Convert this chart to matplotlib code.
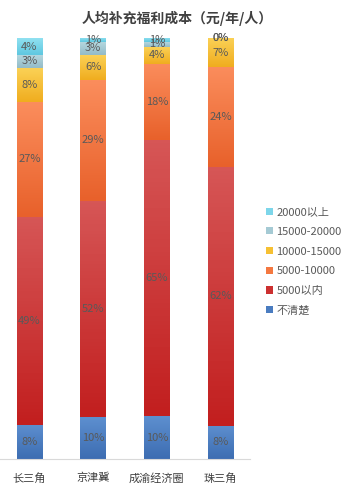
import numpy as np
import matplotlib
matplotlib.use('Agg')
import matplotlib.pyplot as plt
from matplotlib.colors import LinearSegmentedColormap

plt.rcParams['font.family'] = ['Noto Sans CJK SC', 'DejaVu Sans']

regions = ['长三角', '京津冀', '成渝经济圈', '珠三角']
series = ['不清楚', '5000以内', '5000-10000', '10000-15000', '15000-20000', '20000以上']

unknown = [8, 10, 10, 8]
under_5k = [49, 52, 65, 62]
k5_10 = [27, 29, 18, 24]
k10_15 = [8, 6, 4, 7]
k15_20 = [3, 3, 1, 0]
over_20k = [4, 1, 1, 0]

values = [unknown, under_5k, k5_10, k10_15, k15_20, over_20k]

# (top, bottom) colours of each segment's gradient
shades = [
    ('#5d8fcf', '#3d6db2'),
    ('#d65656', '#c21f1f'),
    ('#fb8d5c', '#e8612b'),
    ('#fbd257', '#f0ad1f'),
    ('#b4d6de', '#93bcc8'),
    ('#93e2f2', '#5fc8e0'),
]
legend_colors = ['#4a7cc0', '#cc3030', '#f47840', '#f6c033', '#a5cad4', '#7dd6ea']


def main():
    data = np.array(values, dtype=float)
    totals = data.sum(axis=0)
    pct = data / totals * 100

    fig = plt.figure(figsize=(3.55, 4.91), dpi=100)
    ax = fig.add_axes([0.0, 0.0652, 0.704, 0.8574])

    x = np.arange(len(regions))
    width = 0.4
    bottom = np.zeros(len(regions))
    handles = []
    for i, name in enumerate(series):
        bars = ax.bar(x, pct[i], width, bottom=bottom, color=legend_colors[i],
                      label=name, linewidth=0, zorder=2)
        handles.append(bars)
        cmap = LinearSegmentedColormap.from_list('g%d' % i, [shades[i][1], shades[i][0]])
        grad = np.linspace(0, 1, 64).reshape(-1, 1)
        for j, rect in enumerate(bars):
            if pct[i][j] > 0:
                im = ax.imshow(grad, cmap=cmap, origin='lower', aspect='auto',
                               extent=[x[j] - width / 2, x[j] + width / 2,
                                       bottom[j], bottom[j] + pct[i][j]],
                               zorder=3)
                im.set_clip_path(rect)
            ax.text(x[j], bottom[j] + pct[i][j] / 2, '%d%%' % values[i][j],
                    ha='center', va='center', fontsize=8, color='#595959',
                    zorder=5)
        bottom += pct[i]

    ax.set_xlim(-0.46, 3.46)
    ax.set_ylim(0, 100)
    ax.set_xticks(x)
    ax.set_xticklabels(regions, fontsize=8, color='#404040')
    ax.tick_params(axis='x', length=0, pad=10)
    ax.set_yticks([])
    for s in ['top', 'left', 'right']:
        ax.spines[s].set_visible(False)
    ax.spines['bottom'].set_color('#d9d9d9')
    ax.spines['bottom'].set_zorder(6)

    fig.suptitle('人均补充福利成本（元/年/人）', x=0.5, y=0.978,
                 fontsize=10, fontweight='bold', color='#404040')

    leg = fig.legend(handles[::-1], series[::-1], loc='upper left',
                     bbox_to_anchor=(0.75, 0.578), frameon=False, fontsize=8,
                     handlelength=0.6, handleheight=0.6, handletextpad=0.3,
                     labelspacing=0.87, borderpad=0, borderaxespad=0)
    for t in leg.get_texts():
        t.set_color('#595959')

    fig.savefig('out.png', dpi=100)


if __name__ == '__main__':
    main()
